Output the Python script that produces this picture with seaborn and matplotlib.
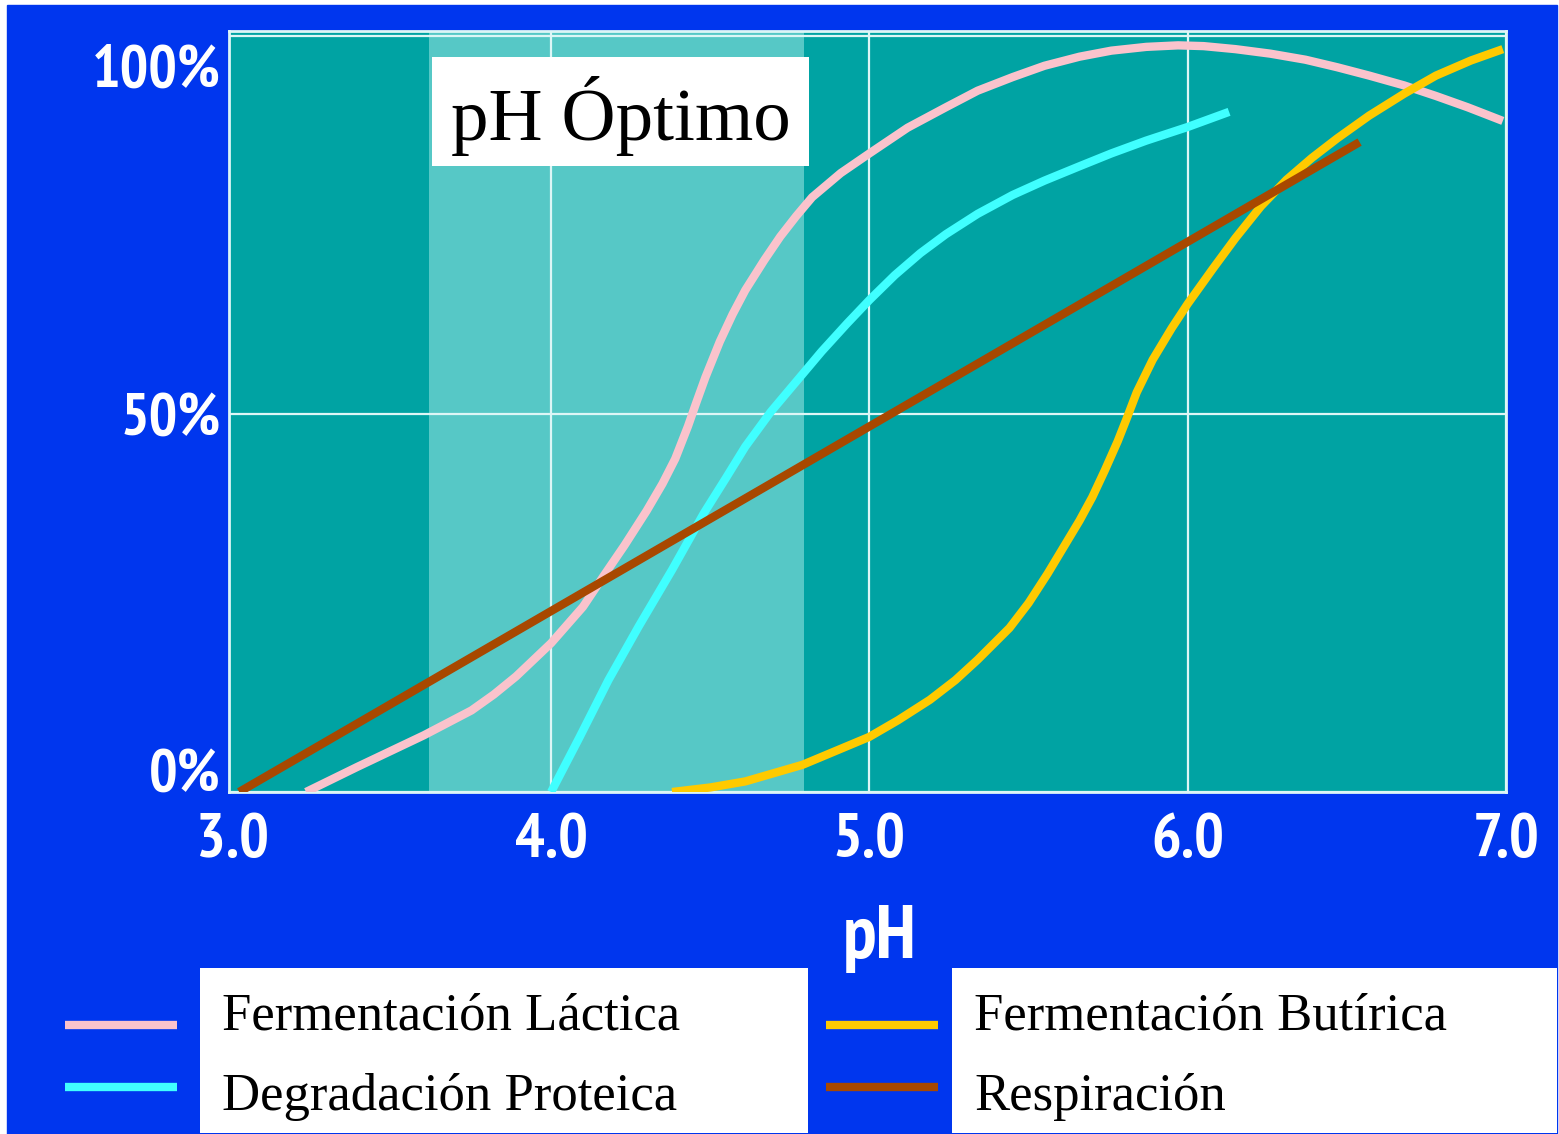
import matplotlib
matplotlib.use("Agg")
import matplotlib.pyplot as plt
from matplotlib.patches import Rectangle
from matplotlib.lines import Line2D
from matplotlib.transforms import ScaledTranslation
import seaborn as sns
import pandas as pd

# values (pH, % activity)
lactica_ph = [3.23, 3.39, 3.60, 3.75, 3.82, 3.89, 4.00, 4.10, 4.17, 4.23, 4.30, 4.35, 4.39,
              4.43, 4.455, 4.485, 4.53, 4.57, 4.61, 4.67, 4.72, 4.77, 4.82, 4.91, 5.00, 5.12,
              5.24, 5.34, 5.45, 5.55, 5.66, 5.76, 5.87, 5.97, 6.05, 6.15, 6.26, 6.37, 6.47,
              6.57, 6.68, 6.78, 6.88, 6.99]
lactica_pct = [0, 3.3, 7.5, 10.8, 12.9, 15.3, 19.7, 24.5, 28.9, 32.6, 37.2, 40.8, 44.1,
               48.4, 51.4, 54.9, 59.6, 63.2, 66.4, 70.4, 73.5, 76.2, 78.7, 81.9, 84.5, 87.9,
               90.6, 92.8, 94.6, 96.1, 97.3, 98.1, 98.6, 98.8, 98.7, 98.3, 97.7, 96.9, 95.9,
               94.8, 93.5, 92.1, 90.6, 88.8]

proteica_ph = [4.00, 4.09, 4.18, 4.275, 4.38, 4.48, 4.55, 4.61, 4.69, 4.77, 4.85, 4.93, 5.00,
               5.08, 5.16, 5.24, 5.34, 5.45, 5.55, 5.66, 5.76, 5.87, 6.00, 6.13]
proteica_pct = [0, 7.3, 14.8, 21.9, 29.4, 36.9, 41.6, 45.7, 50.3, 54.3, 58.3, 62.0, 65.1,
                68.4, 71.3, 73.8, 76.5, 79.0, 80.9, 82.8, 84.5, 86.2, 88.0, 90.0]

butirica_ph = [4.38, 4.50, 4.61, 4.79, 5.00, 5.09, 5.19, 5.27, 5.34, 5.44, 5.50, 5.56, 5.61,
               5.66, 5.70, 5.74, 5.78, 5.81, 5.84, 5.89, 5.95, 6.00, 6.08, 6.15, 6.23, 6.31,
               6.39, 6.47, 6.57, 6.68, 6.78, 6.89, 6.99]
butirica_pct = [0, 0.6, 1.4, 3.6, 7.3, 9.5, 12.2, 14.8, 17.5, 21.7, 25.0, 28.9, 32.4,
                35.9, 39.0, 42.6, 46.4, 49.6, 52.9, 57.2, 61.4, 64.6, 69.3, 73.3, 77.5, 81.0,
                83.9, 86.5, 89.5, 92.4, 94.8, 96.8, 98.3]

respiracion_ph = [3.02, 6.54]
respiracion_pct = [0, 86.0]

optimo = (3.615, 4.794)
x_ticks = [3.0, 4.0, 5.0, 6.0, 7.0]
x_labels = ["3.0", "4.0", "5.0", "6.0", "7.0"]
y_ticks = [0, 50, 100]
y_labels = ["0%", "50%", "100%"]

series = [
    ("Fermentación Láctica", lactica_ph, lactica_pct, "#FAC3CC"),
    ("Degradación Proteica", proteica_ph, proteica_pct, "#40FFFF"),
    ("Fermentación Butírica", butirica_ph, butirica_pct, "#FFCA00"),
    ("Respiración", respiracion_ph, respiracion_pct, "#A84800"),
]

BLUE = "#0036EE"
TEAL = "#00A3A3"
BAND = "#56C8C6"
GRID = "#DDF6F6"
W, H = 1559, 1134

sns.set_style("white")
sans = ["PT Sans Narrow", "Roboto Condensed", "DejaVu Sans"]
serif = ["Liberation Serif", "DejaVu Serif"]
plt.rcParams["font.family"] = sans

fig = plt.figure(figsize=(W / 100, H / 100), dpi=100, facecolor="white")
fig.patches.append(Rectangle((7 / W, 0), (1557 - 7) / W, (H - 5) / H,
                             transform=fig.transFigure, color=BLUE, zorder=-10))

ax = fig.add_axes([229 / W, 1 - 792 / H, (1506 - 229) / W, (792 - 31) / H])
ax.set_facecolor(TEAL)
ax.axvspan(*optimo, color=BAND, lw=0, zorder=1)

for name, xs, ys, col in series:
    df = pd.DataFrame({"pH": xs, "pct": ys})
    sns.lineplot(data=df, x="pH", y="pct", color=col, ax=ax, zorder=3)
for ln in ax.lines:
    ln.set_linewidth(6.0)
    ln.set_solid_capstyle("butt")
    ln.set_solid_joinstyle("round")

ax.set_xlim(2.988, 6.988)
ax.set_ylim(0, 100.7)
ax.set_xticks(x_ticks)
ax.set_xticklabels(x_labels)
ax.set_yticks(y_ticks)
ax.set_yticklabels(y_labels)
ax.set_xlabel("")
ax.set_ylabel("")
ax.set_axisbelow("line")
ax.grid(True, color=GRID, lw=1.6)
ax.xaxis.get_gridlines()[0].set_visible(False)
ax.tick_params(length=0, pad=6, labelsize=45, labelcolor="white")
ax.tick_params(axis="y", labelsize=43)
ax.tick_params(axis="x", pad=15)
for lab in ax.get_xticklabels() + ax.get_yticklabels():
    lab.set_fontweight("bold")
    lab.set_family(sans)
yl = ax.get_yticklabels()
yl[0].set_verticalalignment("baseline")
yl[2].set_verticalalignment("top")
yl[2].set_transform(yl[2].get_transform() + ScaledTranslation(0, -8 / 100, fig.dpi_scale_trans))
for s in ax.spines.values():
    s.set_color(GRID)
    s.set_linewidth(2)

# pH Óptimo label
ax.add_patch(Rectangle((432 / W, 1 - 166 / H), (809 - 432) / W, (166 - 57) / H,
                       transform=fig.transFigure, facecolor="white", edgecolor="none", zorder=4))
ax.text(451 / W, 1 - 140 / H, "pH Óptimo", family=serif, fontsize=54, transform=fig.transFigure,
        color="black", va="baseline", ha="left", zorder=5)

# axis label
fig.text(880 / W, 1 - 958 / H, "pH", family=sans, fontsize=54, fontweight="bold",
         color="white", ha="center", va="baseline")

# legend
for bx0, bx1 in [(200, 808), (952, 1557)]:
    fig.patches.append(Rectangle((bx0 / W, 1 - 1133 / H), (bx1 - bx0) / W, (1133 - 968) / H,
                                 transform=fig.transFigure, facecolor="white",
                                 edgecolor="none", zorder=1))
slots = [(65, 177, 1025, 222, 1030), (65, 177, 1087, 222, 1110),
         (826, 938, 1025, 974, 1030), (826, 938, 1087, 974, 1110)]
for (x0, x1, ly, tx, ty), (name, _, _, col) in zip(slots, series):
    fig.lines.append(Line2D([x0 / W, x1 / W], [1 - ly / H, 1 - ly / H], color=col, lw=6,
                            solid_capstyle="butt", transform=fig.transFigure, zorder=2))
    fig.text(tx / W, 1 - ty / H, name, family=serif, fontsize=38, color="black",
             ha="left", va="baseline", zorder=3)

fig.savefig("out.png", dpi=100, facecolor="white")
